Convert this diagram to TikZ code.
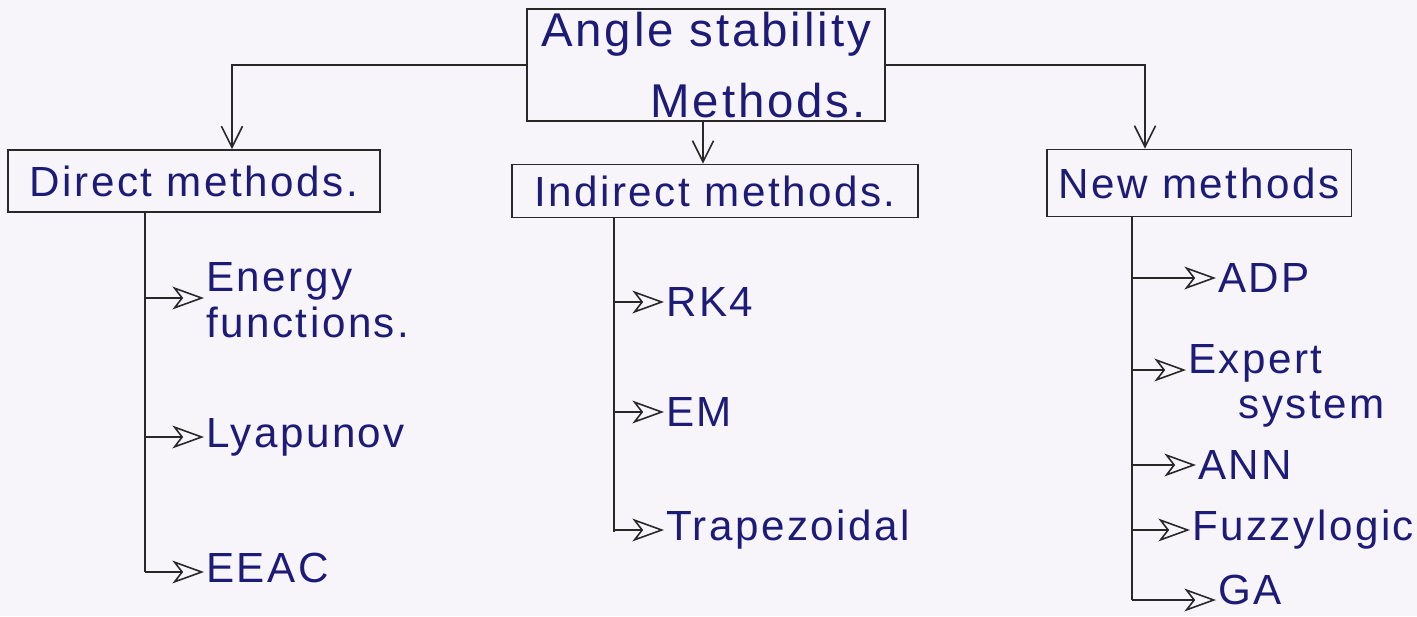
\documentclass[tikz,border=0pt]{standalone}
\usepackage{fontspec}
\setmainfont{Liberation Sans}[LetterSpace=6]
\usetikzlibrary{arrows.meta, positioning}

\definecolor{paper}{RGB}{248,245,250}
\definecolor{ink}{RGB}{28,28,120}
\definecolor{pencil}{RGB}{40,40,40}

\begin{document}
\begin{tikzpicture}[x=0.02cm, y=-0.02cm,
  box/.style={draw=pencil, line width=1.1pt, text=ink, inner sep=2pt,
              font=\fontsize{24}{28}\selectfont},
  leaf/.style={text=ink, anchor=west, inner sep=1pt, align=left,
               font=\fontsize{24}{26}\selectfont},
  down/.style={draw=pencil, line width=0.9pt, -{Straight Barb[length=12pt,width=12pt]}},
  trunk/.style={draw=pencil, line width=1.1pt},
  branch/.style={draw=pencil, line width=0.9pt, -{Stealth[open,length=18pt,width=13pt,inset=5pt]}}]

\fill[paper] (0,0) rectangle (1417,616);
\useasboundingbox (0,0) rectangle (1417,616);

% root and the three groups
\node[box, minimum width=7.16cm, minimum height=2.12cm, align=center,
      font=\fontsize{27}{40}\selectfont] (root) at (706,65)
     {Angle stability\\ \hspace{2.2em}Methods.};
\node[box, minimum width=7.44cm, minimum height=1.24cm] (direct) at (194,181) {Direct methods.};
\node[box, minimum width=8.12cm, minimum height=1.06cm] (indirect) at (715,191) {Indirect methods.};
\node[box, minimum width=6.10cm, minimum height=1.34cm] (new) at (1199,183) {New methods};

\draw[down] (root.west) -| ([xshift=0.76cm]direct.north);
\draw[down] (root.south -| 703,0) -- (indirect.north -| 703,0);
\draw[down] (root.east) -| ([xshift=-1.08cm]new.north);

% direct methods
\coordinate (dtop) at (direct.south -| 145,0);
\coordinate (dend) at (145,572);
\draw[trunk] (dtop) -- (dend);
\foreach \i/\label/\y/\ty in {
  1/{Energy\\ functions.}/298/300,
  2/{Lyapunov}/437/437,
  3/{EEAC}/572/568%
}{
  \node[leaf] (d\i) at (204,\ty) {\label};
  \coordinate (db\i) at (145,\y);
  \draw[branch] (db\i) -- (db\i -| d\i.west);
}

% indirect methods
\coordinate (itop) at (indirect.south -| 614,0);
\coordinate (iend) at (614,532);
\draw[trunk] (itop) -- (iend);
\foreach \i/\label/\y in {
  1/{RK4}/302,
  2/{EM}/412,
  3/{Trapezoidal}/530%
}{
  \node[leaf] (i\i) at (664,\y) {\label};
  \coordinate (ib\i) at (614,\y);
  \draw[branch] (ib\i) -- (ib\i -| i\i.west);
}

% new methods
\coordinate (ntop) at (new.south -| 1132,0);
\coordinate (nend) at (1132,600);
\draw[trunk] (ntop) -- (nend);
\foreach \i/\label/\y/\ty/\x in {
  1/{ADP}/278/278/1216,
  2/{Expert\\ \hspace{1.2em}system}/370/386/1186,
  3/{ANN}/465/465/1196,
  4/{Fuzzylogic}/530/530/1190,
  5/{GA}/600/590/1216%
}{
  \node[leaf] (n\i) at (\x,\ty) {\label};
  \coordinate (nb\i) at (1132,\y);
  \draw[branch] (nb\i) -- (nb\i -| n\i.west);
}
\end{tikzpicture}
\end{document}
